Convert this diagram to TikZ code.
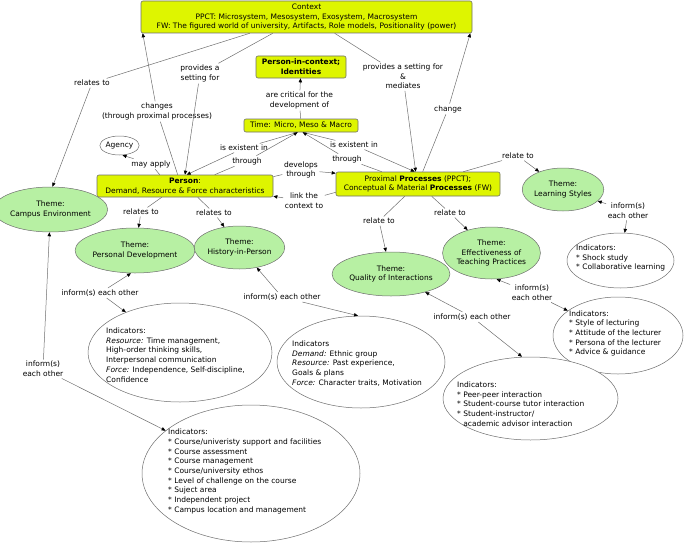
\documentclass[tikz,border=0pt]{standalone}
\usepackage{fontspec}
\setmainfont{DejaVu Sans}
\usetikzlibrary{shapes.geometric,arrows.meta,calc}
\definecolor{ybox}{RGB}{222,245,0}
\definecolor{gell}{RGB}{183,240,163}
\definecolor{edgec}{RGB}{110,110,110}
\begin{document}
\begin{tikzpicture}[x=1pt,y=-1pt,
  font=\fontsize{7.5}{9.7}\selectfont,
  cbox/.style={draw=edgec, fill=ybox, rounded corners=2pt, align=center, inner sep=1pt, line width=0.6pt},
  theme/.style={ellipse, draw=edgec, fill=gell, align=center, inner sep=0pt, line width=0.5pt},
  indell/.style={ellipse, draw=edgec, fill=white, inner sep=0pt, line width=0.5pt},
  indtext/.style={align=left, inner sep=0pt, anchor=west},
  lbl/.style={align=center, inner sep=1.5pt},
  conn/.style={draw=edgec, line width=0.5pt},
  arr/.style={conn, -{Triangle[length=4pt,width=3.4pt,color=black]}}
]
\useasboundingbox (0,0) rectangle (685,543);
% boxes
\node[cbox, minimum width=331pt, minimum height=32pt] (ctx) at (306.5,17)
  {Context\\PPCT: Microsystem, Mesosystem, Exosystem, Macrosystem\\FW: The figured world of university, Artifacts, Role models, Positionality (power)};
\node[cbox, minimum width=90pt, minimum height=22pt, font=\fontsize{7.5}{9.7}\selectfont\bfseries] (pic) at (301,67) {Person-in-context;\\Identities};
\node[cbox, minimum width=114pt, minimum height=13pt] (time) at (301,125.5) {Time: Micro, Meso \& Macro};
\node[cbox, minimum width=176pt, minimum height=22pt] (person) at (185,186) {\textbf{Person}:\\Demand, Resource \& Force characteristics};
\node[cbox, minimum width=164pt, minimum height=24pt] (prox) at (418,184) {Proximal \textbf{Processes} (PPCT);\\Conceptual \& Material \textbf{Processes} (FW)};
% ellipses
\node[indell, minimum width=39pt, minimum height=19pt] (agency) at (119.5,145.5) {Agency};
\node[theme, minimum width=99pt, minimum height=45pt] (camp) at (50.5,209.5) {Theme:\\Campus Environment};
\node[theme, minimum width=104pt, minimum height=45pt] (pd) at (135,250.5) {Theme:\\Personal Development};
\node[theme, minimum width=81pt, minimum height=43pt] (hip) at (239.5,247.5) {Theme:\\History-in-Person};
\node[theme, minimum width=104pt, minimum height=44pt] (qual) at (391,274) {Theme:\\Quality of Interactions};
\node[theme, minimum width=95pt, minimum height=52pt] (eff) at (491.5,253) {Theme:\\Effectiveness of\\Teaching Practices};
\node[theme, minimum width=78pt, minimum height=43pt] (ls) at (563,189.5) {Theme:\\Learning Styles};
% indicator ellipses
\node[indell, minimum width=107pt, minimum height=55pt] (indLS) at (620.5,260.5) {};
\node[indtext] (indLSt) at (576,258) {Indicators:\\* Shock study\\* Collaborative learning};
\node[indell, minimum width=130pt, minimum height=77pt] (indT) at (618,335.5) {};
\node[indtext] (indTt) at (569,333.5) {Indicators:\\* Style of lecturing\\* Attitude of the lecturer\\* Persona of the lecturer\\* Advice \& guidance};
\node[indell, minimum width=175pt, minimum height=83pt] (indQ) at (530.5,398.5) {};
\node[indtext] (indQt) at (457,404) {Indicators:\\* Peer-peer interaction\\* Student-course tutor interaction\\* Student-instructor/\\\phantom{* }academic advisor interaction};
\node[indell, minimum width=184pt, minimum height=99pt] (indPD) at (180,352.5) {};
\node[indtext] (indPDt) at (106,355) {Indicators:\\\textit{Resource:} Time management,\\High-order thinking skills,\\Interpersonal communication\\\textit{Force:} Independence, Self-discipline,\\Confidence};
\node[indell, minimum width=168pt, minimum height=92pt] (indH) at (361,362) {};
\node[indtext] (indHt) at (292,363.5) {Indicators\\\textit{Demand:} Ethnic group\\\textit{Resource:} Past experience,\\Goals \& plans\\\textit{Force:} Character traits, Motivation};
\node[indell, minimum width=218pt, minimum height=137pt] (big) at (251,473.5) {};
\node[indtext] (bigt) at (168,471.5) {Indicators:\\* Course/univeristy support and facilities\\* Course assessment\\* Course management\\* Course/university ethos\\* Level of challenge on the course\\* Suject area\\* Independent project\\* Campus location and management};
% labels
\node[lbl] (l1) at (92,83) {relates to};
\node[lbl] (l2) at (157,111.5) {changes\\(through proximal processes)};
\node[lbl] (l3) at (200,73.5) {provides a\\setting for};
\node[lbl] (l4) at (403,76.5) {provides a setting for\\\&\\mediates};
\node[lbl] (l5) at (448,109) {change};
\node[lbl] (l6) at (299.5,100.5) {are critical for the\\development of};
\node[lbl] (l7a) at (244,148) {is existent in};
\node[lbl] (l7b) at (247,161) {through};
\node[lbl] (l8a) at (354,145) {is existent in};
\node[lbl] (l8b) at (347,159) {through};
\node[lbl] (l9) at (301,170) {develops\\through};
\node[lbl] (l10) at (304,201) {link the\\context to};
\node[lbl] (l11) at (151,164) {may apply};
\node[lbl] (l12) at (141,212) {relates to};
\node[lbl] (l13) at (214,213) {relates to};
\node[lbl] (l14) at (518,156) {relate to};
\node[lbl] (l15) at (379,221) {relate to};
\node[lbl] (l16) at (450,213) {relate to};
\node[lbl] (l17) at (628,211) {inform(s)\\each other};
\node[lbl] (l18) at (532,293) {inform(s)\\each other};
\node[lbl] (l19) at (472,317) {inform(s) each other};
\node[lbl] (l20) at (282,297) {inform(s) each other};
\node[lbl] (l21) at (100,293) {inform(s) each other};
\node[lbl] (l22) at (43,369) {inform(s)\\each other};
% connectors
\draw[conn] ($(ctx.south west)+(109,0)$) -- (l1); \draw[arr] (l1) -- ($(camp.north)+(2,0)$);
\draw[conn] ($(person.north west)+(81,0)$) -- (l2); \draw[arr] (l2) -- ($(ctx.south west)+(2,0)$);
\draw[conn] ($(ctx.south west)+(132,0)$) -- (l3); \draw[arr] (l3) -- (person.north);
\draw[conn] ($(ctx.south west)+(194,0)$) -- (l4); \draw[arr] (l4) -- ($(prox.north west)+(80,0)$);
\draw[conn] ($(prox.north west)+(87,0)$) -- (l5); \draw[arr] (l5) -- ($(ctx.south east)+(-2,0)$);
\draw[conn] (time) -- (l6); \draw[arr] (l6) -- (pic);
\draw[conn] ($(time.south west)+(54,0)$) -- (l7a); \draw[arr] (l7a) -- ($(person.north west)+(90,0)$);
\draw[conn] ($(person.north west)+(118,0)$) -- (l7b); \draw[arr] (l7b) -- ($(time.south west)+(54,0)$);
\draw[conn] ($(time.south west)+(59,0)$) -- (l8a); \draw[arr] (l8a) -- ($(prox.north west)+(79,0)$);
\draw[conn] ($(prox.north west)+(46,0)$) -- (l8b); \draw[arr] (l8b) -- ($(time.south west)+(59,0)$);
\draw[conn] ($(person.north east)+(0,2)$) -- (l9); \draw[arr] (l9) -- ($(prox.north west)+(0,1.5)$);
\draw[conn] ($(prox.south west)+(0,-4)$) -- (l10); \draw[arr] (l10) -- ($(person.south east)+(0,-1)$);
\draw[conn] ($(person.north west)+(63,0)$) -- (l11); \draw[arr] (l11) -- ($(agency.south)+(3,0)$);
\draw[conn] ($(person.south west)+(65,0)$) -- (l12); \draw[arr] (l12) -- (pd);
\draw[conn] ($(person.south west)+(101,0)$) -- (l13); \draw[arr] (l13) -- (hip);
\draw[conn] ($(prox.north east)+(-37,0)$) -- (l14); \draw[arr] (l14) -- (ls);
\draw[conn] ($(prox.south west)+(69,0)$) -- (l15); \draw[arr] (l15) -- (qual);
\draw[conn] ($(prox.south west)+(96,0)$) -- (l16); \draw[arr] (l16) -- (eff);
\draw[arr] (l17) -- (ls); \draw[arr] (l17) -- (indLS);
\draw[arr] (l18) -- ($(eff.south)+(5,0)$); \draw[arr] (l18) -- (indT);
\draw[arr] (l19) -- (qual); \draw[arr] (l19) -- ($(indQ.north)+(-8.5,0)$);
\draw[arr] (l20) -- (hip); \draw[arr] (l20) -- ($(indH.north)+(-3,0)$);
\draw[arr] (l21) -- ($(pd.south)+(-4,0)$); \draw[arr] (l21) -- (indPD);
\draw[arr] (l22) -- (camp); \draw[arr] (l22) -- (big);
\end{tikzpicture}
\end{document}
